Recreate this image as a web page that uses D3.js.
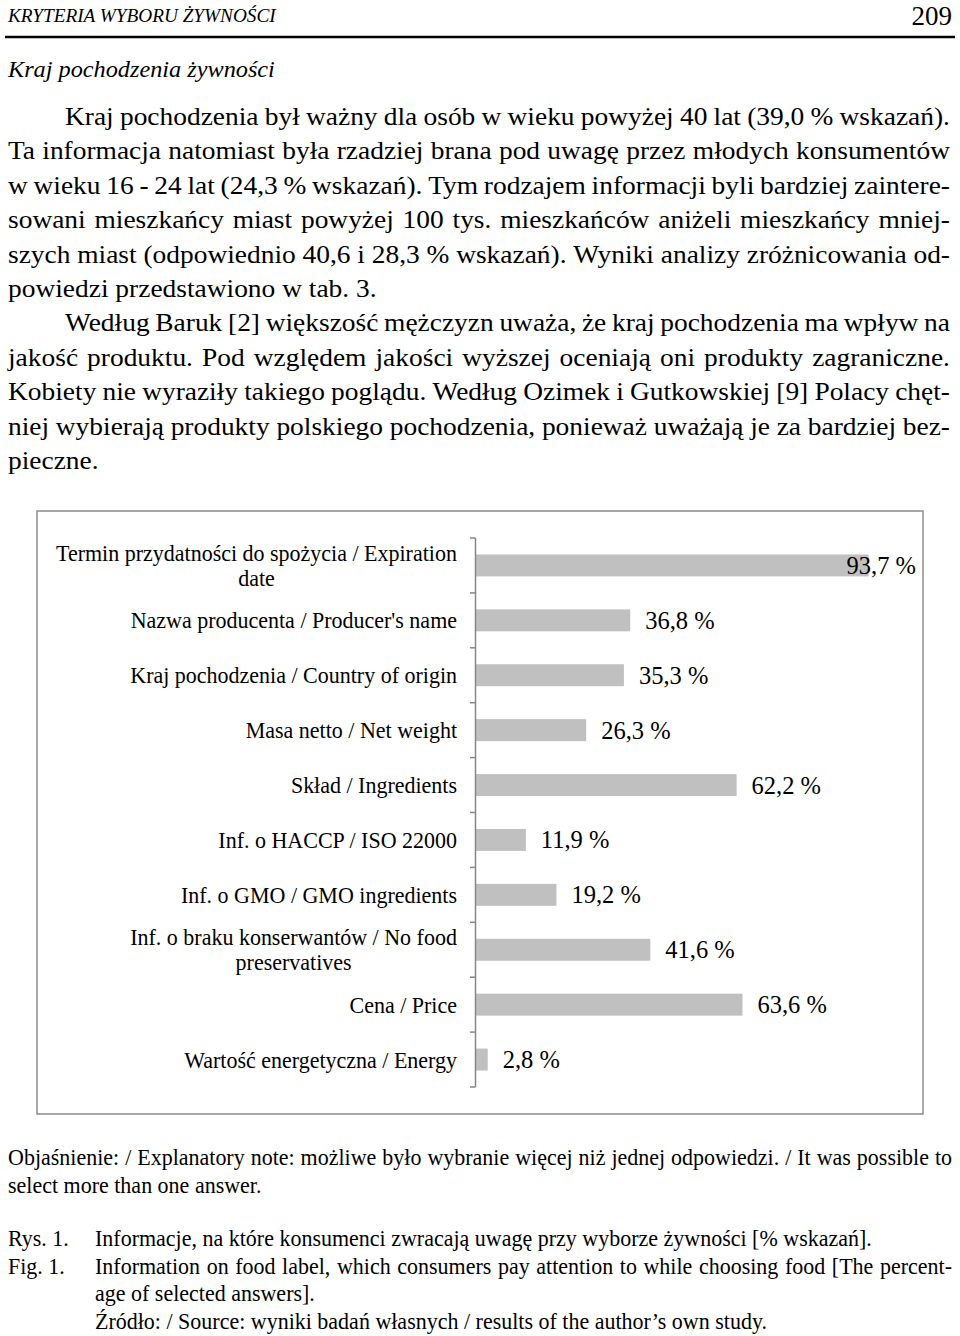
<!DOCTYPE html>
<html><head><meta charset="utf-8">
<script src="https://cdn.jsdelivr.net/npm/d3@7"></script>
<style>body{margin:0;background:#fff} svg{display:block}</style>
</head><body>
<svg id="page" width="960" height="1336"></svg>
<script>
// ---------- DATA ----------
const categories = [
  "Termin przydatności do spożycia / Expiration date",
  "Nazwa producenta / Producer's name",
  "Kraj pochodzenia / Country of origin",
  "Masa netto / Net weight",
  "Skład / Ingredients",
  "Inf. o HACCP / ISO 22000",
  "Inf. o GMO / GMO ingredients",
  "Inf. o braku konserwantów /  No food preservatives",
  "Cena / Price",
  "Wartość energetyczna / Energy"
];
const categoryLines = [
  ["Termin przydatności do spożycia / Expiration", "date"],
  ["Nazwa producenta / Producer's name"],
  ["Kraj pochodzenia / Country of origin"],
  ["Masa netto / Net weight"],
  ["Skład / Ingredients"],
  ["Inf. o HACCP / ISO 22000"],
  ["Inf. o GMO / GMO ingredients"],
  ["Inf. o braku konserwantów /  No food", "preservatives"],
  ["Cena / Price"],
  ["Wartość energetyczna / Energy"]
];
const values = [93.7, 36.8, 35.3, 26.3, 62.2, 11.9, 19.2, 41.6, 63.6, 2.8];

const headerLeft = "KRYTERIA WYBORU ŻYWNOŚCI";
const pageNumber = "209";
const sectionTitle = "Kraj pochodzenia żywności";
const bodyLines = [
  {t: "Kraj pochodzenia był ważny dla osób w wieku powyżej 40 lat (39,0 % wskazań).", indent: true, just: true},
  {t: "Ta informacja natomiast była rzadziej brana pod uwagę przez młodych konsumentów", just: true},
  {t: "w wieku 16 - 24 lat (24,3 % wskazań). Tym rodzajem informacji byli bardziej zaintere-", just: true},
  {t: "sowani mieszkańcy miast powyżej 100 tys. mieszkańców aniżeli mieszkańcy mniej-", just: true},
  {t: "szych miast (odpowiednio 40,6 i 28,3 % wskazań). Wyniki analizy zróżnicowania od-", just: true},
  {t: "powiedzi przedstawiono w tab. 3.", just: false},
  {t: "Według Baruk [2] większość mężczyzn uważa, że kraj pochodzenia ma wpływ na", indent: true, just: true},
  {t: "jakość produktu. Pod względem jakości wyższej oceniają oni produkty zagraniczne.", just: true},
  {t: "Kobiety nie wyraziły takiego poglądu. Według Ozimek i Gutkowskiej [9] Polacy chęt-", just: true},
  {t: "niej wybierają produkty polskiego pochodzenia, ponieważ uważają je za bardziej bez-", just: true},
  {t: "pieczne.", just: false}
];
const noteLines = [
  {t: "Objaśnienie: / Explanatory note: możliwe było wybranie więcej niż jednej odpowiedzi. / It was possible to", just: true},
  {t: "select more than one answer.", just: false}
];
const captionLines = [
  {lab: "Rys. 1.", t: "Informacje, na które konsumenci zwracają uwagę przy wyborze żywności [% wskazań].", just: false},
  {lab: "Fig. 1.", t: "Information on food label, which consumers pay attention to while choosing food [The percent-", just: true},
  {lab: "", t: "age of selected answers].", just: false},
  {lab: "", t: "Źródło: / Source: wyniki badań własnych / results of the author’s own study.", just: false}
];

// ---------- HELPERS ----------
const SERIF = "'Liberation Serif','Times New Roman',serif";
const svg = d3.select("#page");

function measure(text, size, italic) {
  const t = svg.append("text").attr("font-family", SERIF).attr("font-size", size)
    .attr("font-style", italic ? "italic" : "normal").text(text);
  const w = t.node().getComputedTextLength();
  t.remove();
  return w;
}
function drawLine(text, x0, y, size, opts) {
  opts = opts || {};
  const sx = opts.sx || 1;
  const g = svg.append("g").attr("transform", `translate(${x0},${y}) scale(${sx},1)`);
  const t = g.append("text").attr("font-family", SERIF).attr("font-size", size)
    .attr("font-style", opts.italic ? "italic" : "normal").attr("fill", "#000")
    .attr("text-anchor", opts.anchor || "start");
  if (opts.width && opts.just) {
    const words = text.split(/ +/);
    const ws = words.map(w => measure(w, size, opts.italic));
    const local = opts.width / sx;
    const gap = (local - d3.sum(ws)) / (words.length - 1);
    let x = 0;
    words.forEach((w, i) => { t.append("tspan").attr("x", x).text(w); x += ws[i] + gap; });
  } else {
    t.text(text);
  }
  return t;
}

// ---------- HEADER ----------
{
  const hs = 18;
  drawLine(headerLeft, 8, 22, hs, {italic: true, sx: 268 / measure(headerLeft, hs, true)});
  svg.append("text").attr("x", 952).attr("y", 25).attr("text-anchor", "end")
    .attr("font-family", SERIF).attr("font-size", 27).text(pageNumber);
  svg.append("line").attr("x1", 5).attr("x2", 955).attr("y1", 37).attr("y2", 37)
    .attr("stroke", "#000").attr("stroke-width", 2.5);
  const ts = 24;
  drawLine(sectionTitle, 8, 77, ts, {italic: true, sx: 267 / measure(sectionTitle, ts, true)});
}

// ---------- BODY ----------
{
  const bs = 25;
  const natural = measure(bodyLines[1].t, bs);
  const sx = Math.max(1, 938 / natural);
  bodyLines.forEach((l, i) => {
    const x0 = l.indent ? 65 : 8;
    drawLine(l.t, x0, 125 + i * 34.4, bs, {sx, just: l.just, width: 950 - x0});
  });
}

// ---------- CHART ----------
const box = {x: 37, y: 511, w: 886, h: 603};
svg.append("rect").attr("x", box.x).attr("y", box.y).attr("width", box.w).attr("height", box.h)
  .attr("fill", "none").attr("stroke", "#8c8c8c").attr("stroke-width", 1.5);

const axisX = 475.5;
const x = d3.scaleLinear().domain([0, 100]).range([476, 895]);
const y = d3.scaleBand().domain(categories).range([538, 1087]).paddingInner(0.6).paddingOuter(0.3);

svg.append("g").selectAll("rect").data(categories).join("rect")
  .attr("x", x(0)).attr("y", d => y(d)).attr("height", y.bandwidth())
  .attr("width", (d, i) => x(values[i]) - x(0)).attr("fill", "#c0c0c0");

const ax = svg.append("g");
ax.append("line").attr("x1", axisX).attr("x2", axisX).attr("y1", y.range()[0]).attr("y2", y.range()[1])
  .attr("stroke", "#868686").attr("stroke-width", 1.5);
const bounds = categories.map(d => y(d) - y.step() * y.paddingInner() / 2).concat([y.range()[1]]);
ax.selectAll(".tk").data(bounds).join("line").attr("class", "tk")
  .attr("x1", axisX - 5.5).attr("x2", axisX).attr("y1", d => d).attr("y2", d => d)
  .attr("stroke", "#868686").attr("stroke-width", 1.5);

// category labels
const catSize = 23.5, catSx = 22 / 23.5;
categories.forEach((c, i) => {
  const lines = categoryLines[i];
  const cy = y(c) + y.bandwidth() / 2;
  const maxW = d3.max(lines, l => measure(l, catSize)) * catSx;
  const right = 457;
  lines.forEach((l, j) => {
    const off = (j - (lines.length - 1) / 2) * 25 + 8;
    drawLine(l, lines.length > 1 ? right - maxW / 2 : right, cy + off, catSize,
      {sx: catSx, anchor: lines.length > 1 ? "middle" : "end"});
  });
});

// value labels
const valSize = 24.5;
const fmt = v => d3.format(".1f")(v).replace(".", ",") + " %";
categories.forEach((c, i) => {
  const label = fmt(values[i]);
  const w = measure(label, valSize);
  let lx = x(values[i]) + 15;
  if (lx + w > 916) lx = 916 - w;
  svg.append("text").attr("font-family", SERIF).attr("font-size", valSize)
    .attr("x", lx).attr("y", y(c) + y.bandwidth() / 2 + 8.5).text(label);
});

// ---------- NOTES / CAPTION ----------
{
  const fs = 23;
  const sx = 777 / measure(captionLines[0].t, fs);
  noteLines.forEach((l, i) => {
    drawLine(l.t, 8, 1165 + i * 28, fs, {sx, just: l.just, width: 944});
  });
  captionLines.forEach((l, i) => {
    const yy = 1246 + i * 27.6;
    if (l.lab) drawLine(l.lab, 8, yy, fs, {sx});
    drawLine(l.t, 95, yy, fs, {sx, just: l.just, width: 857});
  });
}
</script>
</body></html>
